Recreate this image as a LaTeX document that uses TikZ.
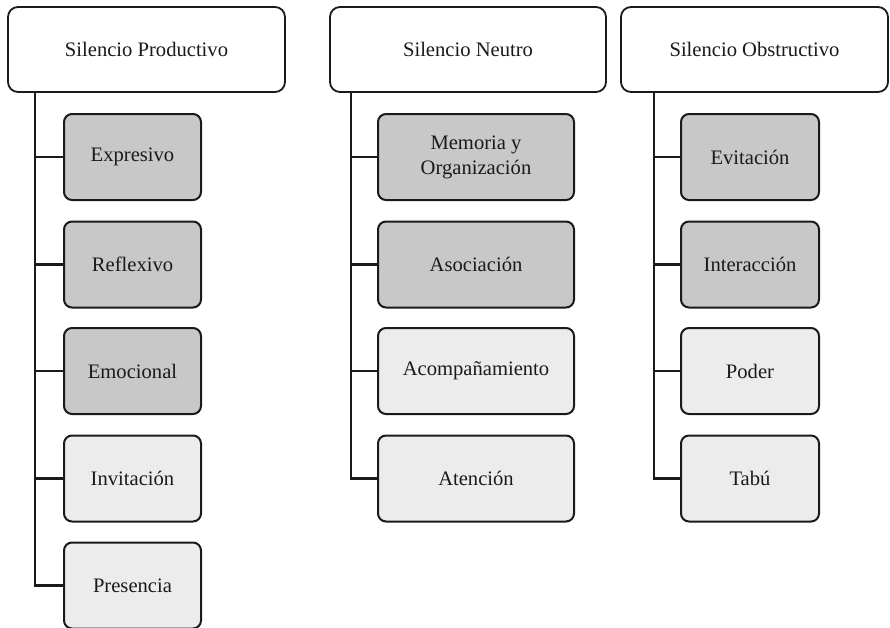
\documentclass[tikz,border=0pt]{standalone}
\usepackage{fontspec}
\setmainfont{Liberation Serif}
\definecolor{darkbox}{HTML}{C8C8C8}
\definecolor{lightbox}{HTML}{ECECEC}
\definecolor{ink}{HTML}{1A1A1A}
\begin{document}
\begin{tikzpicture}[x=1pt,y=-1pt,
  base/.style={draw=ink,line width=2pt,rectangle,inner sep=0pt,align=center,
    text=ink,font=\fontsize{20.6}{25}\selectfont},
  header/.style={base,line width=1.8pt,fill=white,rounded corners=10pt,minimum height=85pt},
  darkchild/.style={base,fill=darkbox,rounded corners=8pt,minimum height=86pt},
  lightchild/.style={base,fill=lightbox,rounded corners=8pt,minimum height=86pt},
  link/.style={draw=ink,line width=2.6pt}]
\useasboundingbox (0,0) rectangle (890,627);
\fill[white] (0,0) rectangle (890,627);
% headers
\node[header,minimum width=277pt] (h1) at (146.5,49.5) {Silencio Productivo};
\node[header,minimum width=276pt] (h2) at (468,49.5) {Silencio Neutro};
\node[header,minimum width=267pt] (h3) at (754.5,49.5) {Silencio Obstructivo};
% column 1
\node[darkchild,minimum width=137pt] (c11) at (132.5,157) {Expresivo};
\node[darkchild,minimum width=137pt] (c12) at (132.5,264.5) {Reflexivo};
\node[darkchild,minimum width=137pt] (c13) at (132.5,371) {Emocional};
\node[lightchild,minimum width=137pt] (c14) at (132.5,478.5) {Invitación};
\node[lightchild,minimum width=137pt] (c15) at (132.5,585.5) {Presencia};
% column 2
\node[darkchild,minimum width=196pt] (c21) at (476,157) {Memoria y\\Organización};
\node[darkchild,minimum width=196pt] (c22) at (476,264.5) {Asociación};
\node[lightchild,minimum width=196pt] (c23) at (476,371) {Acompañamiento};
\node[lightchild,minimum width=196pt] (c24) at (476,478.5) {Atención};
% column 3
\node[darkchild,minimum width=138pt] (c31) at (750,157) {Evitación};
\node[darkchild,minimum width=138pt] (c32) at (750,264.5) {Interacción};
\node[lightchild,minimum width=138pt] (c33) at (750,371) {Poder};
\node[lightchild,minimum width=138pt] (c34) at (750,478.5) {Tabú};
% trunks
\coordinate (t1) at ([xshift=28pt]h1.south west);
\coordinate (t2) at ([xshift=22pt]h2.south west);
\coordinate (t3) at ([xshift=34pt]h3.south west);
\foreach \c in {c11,c12,c13,c14,c15} \draw[link] (t1) |- (\c.west);
\foreach \c in {c21,c22,c23,c24} \draw[link] (t2) |- (\c.west);
\foreach \c in {c31,c32,c33,c34} \draw[link] (t3) |- (\c.west);
\end{tikzpicture}
\end{document}
